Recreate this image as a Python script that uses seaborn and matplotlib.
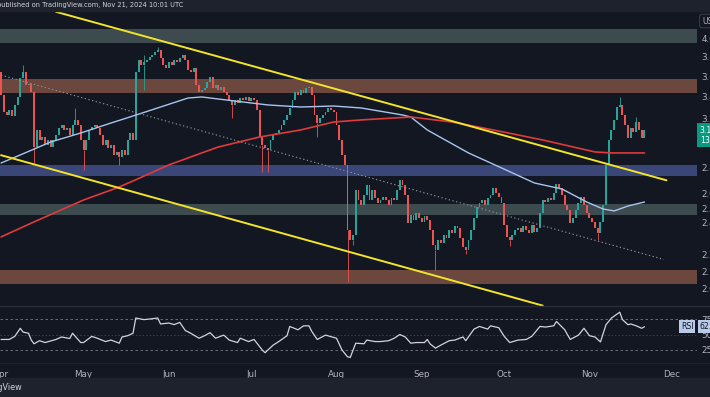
import seaborn as sns
import matplotlib.pyplot as plt
import matplotlib.ticker as mticker
from matplotlib.patches import Rectangle
import pandas as pd
import numpy as np

# -----------------------
# Data (daily candles, Apr 1 - Nov 21 2024)
# -----------------------
start = pd.Timestamp("2024-04-01")
first_open = 3.64
closes = [
    3.418, 3.261, 3.234, 3.279, 3.225, 3.325, 3.399, 3.582, 3.642, 3.513,
    3.523, 3.446, 2.960, 3.103, 3.018, 3.043, 2.977, 3.018, 2.960, 3.018,
    3.060, 3.120, 3.146, 3.103, 3.120, 3.060, 3.146, 3.190, 3.146, 3.018,
    2.936, 3.018, 3.103, 3.129, 3.146, 3.120, 3.060, 2.977, 3.018, 2.952,
    2.977, 2.896, 2.920, 2.880, 2.936, 2.896, 3.018, 3.077, 3.018, 3.642,
    3.764, 3.713, 3.743, 3.764, 3.796, 3.817, 3.849, 3.870, 3.785, 3.713,
    3.682, 3.743, 3.713, 3.764, 3.743, 3.785, 3.817, 3.764, 3.662, 3.642,
    3.682, 3.513, 3.446, 3.465, 3.484, 3.542, 3.592, 3.484, 3.513, 3.465,
    3.494, 3.446, 3.418, 3.371, 3.325, 3.371, 3.343, 3.390, 3.371, 3.399,
    3.362, 3.390, 3.371, 3.279, 3.043, 2.977, 2.952, 2.936, 3.018, 3.060,
    3.077, 3.103, 3.146, 3.190, 3.234, 3.297, 3.371, 3.446, 3.418, 3.465,
    3.437, 3.484, 3.494, 3.418, 3.234, 3.164, 3.208, 3.234, 3.261, 3.297,
    3.279, 3.261, 3.146, 3.018, 2.896, 2.817, 2.354, 2.290, 2.322, 2.629,
    2.557, 2.522, 2.593, 2.666, 2.557, 2.629, 2.571, 2.536, 2.557, 2.578,
    2.557, 2.522, 2.571, 2.557, 2.629, 2.703, 2.666, 2.593, 2.400, 2.454,
    2.420, 2.468, 2.434, 2.407, 2.447, 2.420, 2.354, 2.258, 2.227, 2.290,
    2.271, 2.322, 2.303, 2.354, 2.335, 2.380, 2.367, 2.303, 2.246, 2.227,
    2.290, 2.354, 2.434, 2.508, 2.536, 2.557, 2.522, 2.571, 2.593, 2.644,
    2.607, 2.578, 2.536, 2.387, 2.309, 2.290, 2.322, 2.354, 2.367, 2.341,
    2.380, 2.354, 2.335, 2.387, 2.341, 2.367, 2.468, 2.557, 2.543, 2.571,
    2.557, 2.607, 2.673, 2.644, 2.593, 2.522, 2.488, 2.400, 2.434, 2.488,
    2.536, 2.578, 2.522, 2.468, 2.434, 2.407, 2.367, 2.335, 2.407, 2.522,
    2.817, 3.018, 3.103, 3.190, 3.306, 3.325, 3.234, 3.146, 3.035, 3.120,
    3.086, 3.172, 3.103, 3.035, 3.100,
]
# notable wicks only (day index -> price)
wick_highs = {8: 3.71, 27: 3.30, 52: 3.82, 57: 3.90, 225: 3.40, 231: 3.22}
wick_lows = {12: 2.83, 30: 2.78, 43: 2.82, 52: 3.465, 84: 3.21, 95: 2.76,
             97: 2.76, 115: 3.04, 126: 2.04, 128: 2.26, 158: 2.11,
             169: 2.20, 185: 2.25, 217: 2.29}

# moving averages (day index, price)
blue_ma_days = [0, 7, 18, 29, 40, 48, 58, 68, 73, 85, 97, 109, 121, 131, 146,
                149, 155, 170, 182, 194, 204, 213, 219, 223, 228, 234]
blue_ma = [2.832, 2.896, 3.001, 3.077, 3.163, 3.225, 3.306, 3.389, 3.399,
           3.361, 3.325, 3.306, 3.315, 3.297, 3.234, 3.216, 3.103, 2.912,
           2.794, 2.680, 2.636, 2.543, 2.494, 2.481, 2.515, 2.543]
red_ma_days = [0, 12, 30, 42, 48, 61, 73, 79, 94, 109, 121, 131, 149, 164,
               179, 197, 216, 222, 234]
red_ma = [2.309, 2.407, 2.557, 2.643, 2.695, 2.817, 2.912, 2.960, 3.043,
          3.103, 3.172, 3.190, 3.216, 3.172, 3.103, 3.018, 2.920, 2.912, 2.912]

# RSI (day index, value)
rsi_days = [0, 3, 5, 7, 8, 10, 11, 12, 14, 16, 20, 22, 25, 26, 29, 30, 33, 35,
            38, 40, 43, 44, 46, 48, 49, 52, 54, 57, 58, 61, 63, 65, 67, 69,
            72, 74, 76, 78, 81, 83, 86, 87, 90, 92, 95, 96, 99, 101, 104, 105,
            108, 110, 112, 113, 115, 118, 122, 124, 126, 127, 129, 132, 133,
            136, 138, 141, 143, 145, 147, 149, 151, 154, 155, 156, 158, 160,
            163, 165, 168, 169, 172, 174, 177, 178, 181, 183, 185, 188, 191,
            193, 196, 198, 201, 202, 205, 207, 210, 212, 214, 216, 218, 220,
            222, 225, 226, 228, 229, 231, 233, 234]
rsi = [42, 42, 47, 60, 54, 52, 41, 35, 40, 37, 42, 46, 43.5, 52, 37, 37, 47,
       44, 38.6, 41, 36, 46, 48, 52, 76.6, 74, 75, 76.6, 67, 68.5, 66, 69.6,
       56.5, 52, 44, 48, 53, 44, 49, 41, 37, 44, 38.6, 42, 25, 20.6, 33, 38.6,
       48, 63, 57.6, 64, 64, 55, 42, 49, 44, 25, 14, 13, 36, 35, 41, 38.6,
       38.6, 40, 44, 50, 46, 36, 37, 37, 42, 35, 28, 33, 40, 41, 46, 40, 58.7,
       63, 58.7, 64, 61, 47, 37, 41, 42, 47, 63, 62, 64, 71, 57.6, 42, 49, 60,
       48, 46, 38, 65.8, 76.6, 86, 74, 65.8, 67, 64, 60, 62.6]

# horizontal zones (price ranges)
zone_lo = [3.95, 3.44, 2.73, 2.45, 2.03]
zone_hi = [4.10, 3.57, 2.82, 2.53, 2.11]

# trend lines (day index, price)
upper_days, upper_px = [20, 242], [4.30, 2.70]
lower_days, lower_px = [0, 197], [2.894, 1.91]
mid_days, mid_px = [0, 241], [3.61, 2.17]

price_ticks = [4.0, 3.8, 3.6, 3.4, 3.2, 3.0, 2.8, 2.6, 2.5, 2.4, 2.2, 2.1, 2.0]
months = ["Apr", "May", "Jun", "Jul", "Aug", "Sep", "Oct", "Nov", "Dec"]

# -----------------------
# Style
# -----------------------
BG = "#131722"
BAR = "#1e222d"
TXT = "#b2b5be"
GREEN = "#26a69a"
RED = "#ef5350"
YELLOW = "#f2e32b"
zone_colors = ["#3d4b4f", "#6b473e", "#3a4578", "#3d4b4f", "#6b473e"]

sns.set_style("dark", {"axes.facecolor": BG, "figure.facecolor": BG})
plt.rcParams["font.family"] = ["DejaVu Sans"]

W, H = 710, 397


def px_box(x0, y0, x1, y1):
    return [x0 / W, 1 - y1 / H, (x1 - x0) / W, (y1 - y0) / H]


fig = plt.figure(figsize=(W / 100, H / 100), dpi=100)
ax = fig.add_axes(px_box(0, 12, 697, 306))
rax = fig.add_axes(px_box(0, 306, 697, 363), sharex=ax)


def to_dates(days):
    return start + pd.to_timedelta(days, unit="D")


ax.set_yscale("log")

# zones
for lo, hi, col in zip(zone_lo, zone_hi, zone_colors):
    ax.axhspan(lo, hi, color=col, lw=0, zorder=1)

# candles
dates = pd.date_range(start, periods=len(closes), freq="D")
c = np.array(closes)
o = np.r_[first_open, c[:-1]]
cols = np.where(c >= o, GREEN, RED)
ax.bar(dates, np.abs(c - o), bottom=np.minimum(o, c), width=0.72,
       color=cols, linewidth=0, zorder=3)
for d, h in wick_highs.items():
    ax.vlines(dates[d], max(o[d], c[d]), h, color=cols[d], lw=0.6, zorder=3)
for d, l in wick_lows.items():
    ax.vlines(dates[d], l, min(o[d], c[d]), color=cols[d], lw=0.6, zorder=3)

# moving averages
sns.lineplot(x=to_dates(blue_ma_days), y=blue_ma, ax=ax, color="#a9c5ee",
             linewidth=1.0, zorder=4)
sns.lineplot(x=to_dates(red_ma_days), y=red_ma, ax=ax, color="#e03a3a",
             linewidth=1.2, zorder=4)

# trend lines
ax.plot(to_dates(mid_days), mid_px, color="#8d92a0", lw=0.8,
        ls=(0, (1.2, 2.2)), zorder=4)
ax.plot(to_dates(upper_days), upper_px, color=YELLOW, lw=1.4, zorder=5)
ax.plot(to_dates(lower_days), lower_px, color=YELLOW, lw=1.4, zorder=5)

ax.set_xlim(start - pd.Timedelta(hours=9), start + pd.Timedelta(days=253.1))
ax.set_ylim(1.908, 4.298)
ax.yaxis.tick_right()
ax.set_yticks(price_ticks)
ax.set_yticklabels([f"{t:.4f}" for t in price_ticks])
ax.yaxis.set_minor_locator(mticker.NullLocator())
ax.tick_params(axis="y", length=0, pad=3, labelsize=6.3, colors=TXT)
ax.tick_params(axis="x", bottom=False, labelbottom=False)
ax.set_xlabel("")
ax.set_ylabel("")

# last price label: price on first line, countdown below
ax.annotate(f"{closes[-1]:.4f}\n13:58:59", xy=(1.004, closes[-1]),
            xycoords=ax.get_yaxis_transform(), xytext=(0, -3.5),
            textcoords="offset points", fontsize=5.6, color="white",
            va="center", ha="left", linespacing=1.15, annotation_clip=False,
            zorder=10,
            bbox=dict(boxstyle="square,pad=0.3", fc="#089981", ec="none"))

# RSI pane
sns.lineplot(x=to_dates(rsi_days), y=rsi, ax=rax, color="#d1d4dc",
             linewidth=0.9, zorder=3)
for lvl in (75, 25):
    rax.axhline(lvl, color="#787b86", lw=0.6, ls=(0, (3, 3)), zorder=2)
rax.axhline(50, color="#50535e", lw=0.5, ls=(0, (2, 3)), zorder=2)
rax.set_ylim(4, 96)
rax.yaxis.tick_right()
rax.set_yticks([25, 50, 75])
rax.tick_params(axis="y", length=0, pad=3, labelsize=6.3, colors=TXT)
rax.set_xticks(pd.date_range("2024-04-01", periods=len(months), freq="MS"))
rax.set_xticklabels(months)
rax.tick_params(axis="x", length=0, pad=5, labelsize=6.3, colors=TXT)
rax.set_xlabel("")
rax.set_ylabel("")
rax.text(0.977, rsi[-1], "RSI", transform=rax.get_yaxis_transform(),
         fontsize=5.6, color="#131722", va="center", ha="left", zorder=10,
         clip_on=False,
         bbox=dict(boxstyle="square,pad=0.25", fc="#b9cbe8", ec="none"))
rax.text(1.004, rsi[-1], f"{rsi[-1]:.2f}", transform=rax.get_yaxis_transform(),
         fontsize=5.6, color="#131722", va="center", ha="left", zorder=10,
         clip_on=False,
         bbox=dict(boxstyle="square,pad=0.25", fc="#b9cbe8", ec="none"))

for a in (ax, rax):
    a.grid(False)
    for s in a.spines.values():
        s.set_visible(False)

# frame: header, separators, footer
fig.patches.append(Rectangle((0, 1 - 11 / H), 1, 11 / H, transform=fig.transFigure,
                             color=BAR, zorder=0))
fig.patches.append(Rectangle((0, 1 - 397 / H), 1, 19 / H, transform=fig.transFigure,
                             color=BAR, zorder=0))
fig.add_artist(plt.Line2D([0, 1], [1 - 306 / H] * 2, color="#2a2e39", lw=1.0))
fig.add_artist(plt.Line2D([0, 1], [1 - 363 / H] * 2, color="#1e222d", lw=0.8))
fig.text(-3 / W, 1 - 5.5 / H, "published on TradingView.com, Nov 21, 2024 10:01 UTC",
         fontsize=4.8, color="#d1d4dc", va="center", ha="left")
fig.text(22 / W, 1 - 388 / H, "TradingView", fontsize=5.8, color="#d1d4dc",
         va="center", ha="right")
fig.text(702 / W, 1 - 21 / H, "USD", fontsize=5.6, color=TXT, va="center",
         ha="left", bbox=dict(boxstyle="round,pad=0.3", fc=BG, ec="#434651", lw=0.6))

plt.savefig("out.png", dpi=100, facecolor=BG)
